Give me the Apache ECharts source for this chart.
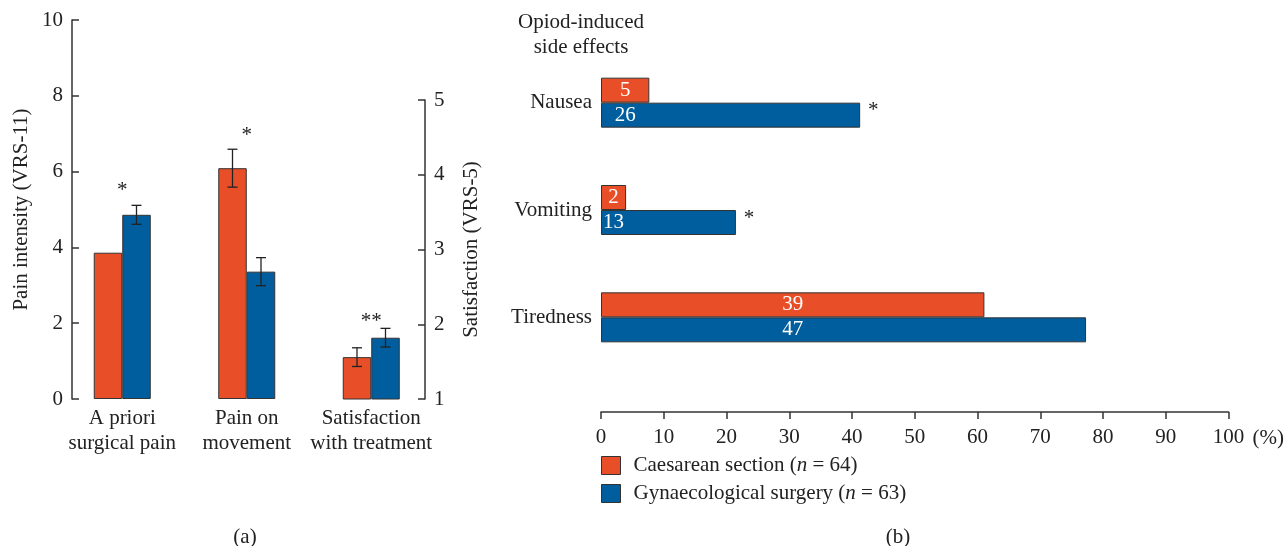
<!DOCTYPE html>
<html>
<head>
<meta charset="utf-8">
<script src="https://cdn.jsdelivr.net/npm/echarts@6/dist/echarts.min.js"></script>
<style>html,body{margin:0;padding:0;background:#fff;}#c{width:1288px;height:546px;}</style>
</head>
<body>
<div id="c"></div>
<script>
// ---- data ----
const painCats = ['A priori\nsurgical pain', 'Pain on\nmovement', 'Satisfaction\nwith treatment'];
const painCS = [3.86, 6.09, null];          // pain intensity, Caesarean section (VRS-11)
const painGS = [4.86, 3.36, null];          // pain intensity, gynaecological surgery
const painCSErr = [null, 0.5, null];
const painGSErr = [0.25, 0.37, null];
const satCS = [null, null, 1.56];           // satisfaction (VRS-5)
const satGS = [null, null, 1.82];
const satCSErr = [null, null, 0.125];
const satGSErr = [null, null, 0.125];
const sigLeft = [['*', 0, 5.6], ['*', 1, 7.05], ['**', 2, 2.16]];

const sideCats = ['Nausea', 'Vomiting', 'Tiredness'];
const sideCSPct = [7.7, 4.0, 61.1];
const sideGSPct = [41.3, 21.5, 77.3];
const sideCSCount = [5, 2, 39];
const sideGSCount = [26, 13, 47];
const sideSig = ['*', '*', ''];

const leftTicks = [0, 2, 4, 6, 8, 10];
const rightTicks = [1, 2, 3, 4, 5];

// ---- style ----
const FONT = 'Liberation Serif';
const FS = 21;
const RED = '#E84F28';
const BLUE = '#005E9E';
const INK = '#222';
const AXIS = '#333';
const nameCS = 'Caesarean section (n = 64)';
const nameGS = 'Gynaecological surgery (n = 63)';
const BW = 28.5;

function toData(arr) { return arr.map(v => v == null ? '-' : v); }
function errData(vals, errs) {
  const out = [];
  vals.forEach((v, i) => { if (v != null && errs[i] != null) out.push([i, v - errs[i], v + errs[i]]); });
  return out;
}
function errSeries(data, dx, xi, yi) {
  return {
    type: 'custom', xAxisIndex: xi, yAxisIndex: yi, z: 10, silent: true,
    data: data,
    encode: { x: 0, y: [1, 2] },
    renderItem: function (params, api) {
      const lo = api.coord([api.value(0), api.value(1)]);
      const hi = api.coord([api.value(0), api.value(2)]);
      const x = lo[0] + dx, cap = 5;
      const st = { stroke: '#222', lineWidth: 1.3 };
      return { type: 'group', children: [
        { type: 'line', shape: { x1: x, y1: lo[1], x2: x, y2: hi[1] }, style: st },
        { type: 'line', shape: { x1: x - cap, y1: lo[1], x2: x + cap, y2: lo[1] }, style: st },
        { type: 'line', shape: { x1: x - cap, y1: hi[1], x2: x + cap, y2: hi[1] }, style: st }
      ] };
    }
  };
}
const axisLineStyle = { color: AXIS, width: 1.5 };
const labelStyle = { fontSize: FS, color: INK, fontFamily: FONT };
const barItem = c => ({ color: c, borderColor: '#333', borderWidth: 1 });
const textFont = FS + 'px "' + FONT + '"';

const chart = echarts.init(document.getElementById('c'), null, { renderer: 'canvas' });
chart.setOption({
  animation: false,
  textStyle: { fontFamily: FONT },
  title: [
    { text: 'Opiod-induced\nside effects', left: 576, top: 5, textAlign: 'center',
      textStyle: { fontSize: FS, fontWeight: 'normal', lineHeight: 25, color: INK, fontFamily: FONT } },
    { text: '(a)', left: 240, top: 522, textAlign: 'center',
      textStyle: { fontSize: FS, fontWeight: 'normal', color: INK, fontFamily: FONT } },
    { text: '(b)', left: 893, top: 522, textAlign: 'center',
      textStyle: { fontSize: FS, fontWeight: 'normal', color: INK, fontFamily: FONT } }
  ],
  legend: {
    left: 601, top: 455, padding: 0, orient: 'vertical', itemWidth: 19, itemHeight: 18, itemGap: 7,
    icon: 'rect', data: [nameCS, nameGS],
    itemStyle: { borderColor: '#333', borderWidth: 1 },
    formatter: function (n) {
      return n === nameCS ? '{a|Caesarean section (}{i|n}{a| = 64)}' : '{a|Gynaecological surgery (}{i|n}{a| = 63)}';
    },
    textStyle: { padding: [0, 0, 0, 8], rich: {
      a: { fontSize: FS, fontFamily: FONT, color: INK },
      i: { fontSize: FS, fontFamily: FONT, color: INK, fontStyle: 'italic' } } }
  },
  grid: [
    { left: 60, width: 373.5, top: 20, height: 379 },
    { left: 60, width: 373.5, top: 100, height: 299 },
    { left: 601, width: 627.5, top: 49, height: 322 }
  ],
  xAxis: [
    { gridIndex: 0, type: 'category', data: painCats, axisLine: { show: false }, axisTick: { show: false },
      axisLabel: Object.assign({ margin: 7, lineHeight: 25, interval: 0 }, labelStyle) },
    { gridIndex: 1, type: 'category', data: painCats, show: false },
    { gridIndex: 2, type: 'value', min: 0, max: 100, interval: 10, offset: 41,
      axisLine: { show: true, lineStyle: axisLineStyle },
      axisTick: { show: true, length: 7, lineStyle: axisLineStyle },
      splitLine: { show: false },
      axisLabel: Object.assign({ margin: 15 }, labelStyle),
      name: '(%)', nameLocation: 'end', nameGap: 24,
      nameTextStyle: Object.assign({ align: 'left', verticalAlign: 'top', padding: [16, 0, 0, 0] }, labelStyle) }
  ],
  yAxis: [
    { gridIndex: 0, type: 'value', min: leftTicks[0], max: leftTicks[leftTicks.length - 1], interval: 2,
      position: 'left', offset: -12,
      axisLine: { show: true, lineStyle: axisLineStyle },
      axisTick: { show: true, inside: true, length: 7, lineStyle: axisLineStyle },
      splitLine: { show: false },
      axisLabel: Object.assign({ margin: 9 }, labelStyle),
      name: 'Pain intensity (VRS-11)', nameLocation: 'middle', nameGap: 40, nameRotate: 90,
      nameTextStyle: labelStyle },
    { gridIndex: 1, type: 'value', min: rightTicks[0], max: rightTicks[rightTicks.length - 1], interval: 1,
      position: 'right', offset: -8.5,
      axisLine: { show: true, lineStyle: axisLineStyle },
      axisTick: { show: true, inside: true, length: 7, lineStyle: axisLineStyle },
      splitLine: { show: false },
      axisLabel: Object.assign({ margin: 9 }, labelStyle),
      name: 'Satisfaction (VRS-5)', nameLocation: 'middle', nameGap: 36, nameRotate: 90,
      nameTextStyle: labelStyle },
    { gridIndex: 2, type: 'category', data: sideCats, inverse: true,
      axisLine: { show: false }, axisTick: { show: false },
      axisLabel: Object.assign({ margin: 9 }, labelStyle) }
  ],
  series: [
    { name: nameCS, type: 'bar', xAxisIndex: 0, yAxisIndex: 0, data: toData(painCS), barWidth: BW, barGap: '0%', itemStyle: barItem(RED) },
    { name: nameGS, type: 'bar', xAxisIndex: 0, yAxisIndex: 0, data: toData(painGS), barWidth: BW, barGap: '0%', itemStyle: barItem(BLUE) },
    { name: nameCS, type: 'bar', xAxisIndex: 1, yAxisIndex: 1, data: toData(satCS), barWidth: BW, barGap: '0%', itemStyle: barItem(RED) },
    { name: nameGS, type: 'bar', xAxisIndex: 1, yAxisIndex: 1, data: toData(satGS), barWidth: BW, barGap: '0%', itemStyle: barItem(BLUE) },
    errSeries(errData(painCS, painCSErr), -BW / 2, 0, 0),
    errSeries(errData(painGS, painGSErr), BW / 2, 0, 0),
    errSeries(errData(satCS, satCSErr), -BW / 2, 1, 1),
    errSeries(errData(satGS, satGSErr), BW / 2, 1, 1),
    { type: 'custom', xAxisIndex: 0, yAxisIndex: 0, z: 10, silent: true,
      data: sigLeft.map(s => [s[1], s[2]]),
      renderItem: function (params, api) {
        const p = api.coord([api.value(0), api.value(1)]);
        return { type: 'text', x: p[0], y: p[1] + 4, style: { text: sigLeft[params.dataIndex][0], fill: INK,
          font: textFont, align: 'center', verticalAlign: 'middle' } };
      } },
    { name: nameCS, type: 'bar', xAxisIndex: 2, yAxisIndex: 2, data: sideCSPct, barWidth: 25, barGap: '0%',
      itemStyle: barItem(RED),
      label: { show: true, position: 'inside', color: '#fff', fontSize: FS, fontFamily: FONT,
        formatter: p => String(sideCSCount[p.dataIndex]) } },
    { name: nameGS, type: 'bar', xAxisIndex: 2, yAxisIndex: 2, data: sideGSPct, barWidth: 25, barGap: '0%',
      itemStyle: barItem(BLUE) },
    { type: 'custom', xAxisIndex: 2, yAxisIndex: 2, z: 10, silent: true,
      data: sideCSPct.map((v, i) => [v / 2, i]),
      renderItem: function (params, api) {
        const p = api.coord([api.value(0), api.value(1)]);
        return { type: 'text', x: p[0], y: p[1] + 12.5, style: { text: String(sideGSCount[params.dataIndex]), fill: '#fff',
          font: textFont, align: 'center', verticalAlign: 'middle' } };
      } },
    { type: 'custom', xAxisIndex: 2, yAxisIndex: 2, z: 10, silent: true,
      data: sideGSPct.map((v, i) => [v, i]),
      renderItem: function (params, api) {
        const p = api.coord([api.value(0), api.value(1)]);
        return { type: 'text', x: p[0] + 13, y: p[1] + 8, style: { text: sideSig[params.dataIndex], fill: INK,
          font: textFont, align: 'center', verticalAlign: 'middle' } };
      } }
  ]
});
</script>
</body>
</html>
